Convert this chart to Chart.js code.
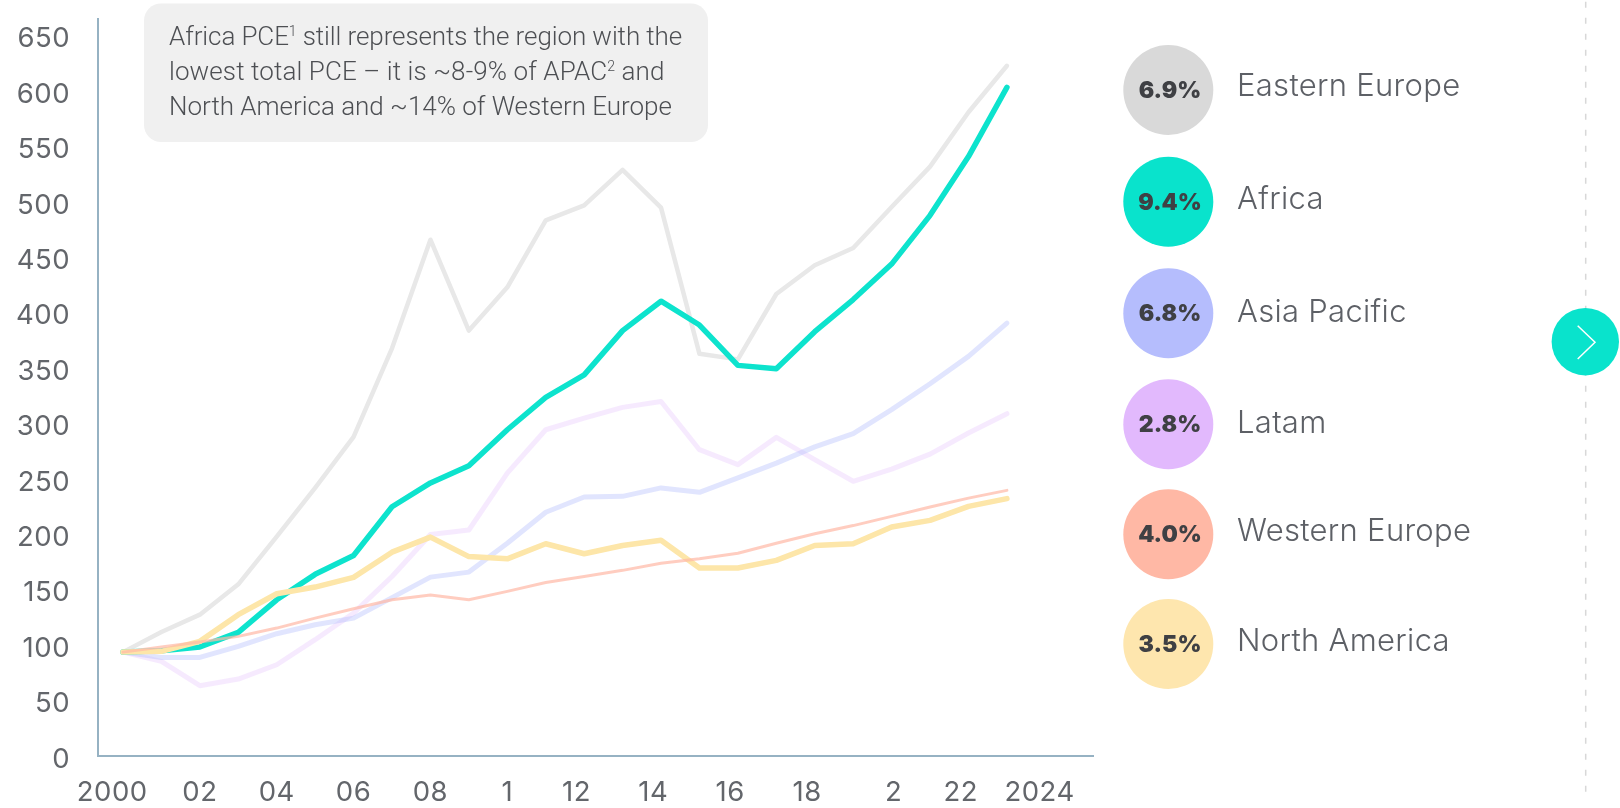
<!DOCTYPE html>
<html>
<head>
<meta charset="utf-8">
<title>PCE by region</title>
<script src="https://cdn.jsdelivr.net/npm/chart.js@4"></script>
<style>
    html, body { margin: 0; padding: 0; background: #fff; overflow: hidden; }
    #wrap { position: relative; width: 1620px; height: 808px; }
    #chart { position: absolute; left: 0; top: 0; }
    #overlay { position: absolute; left: 0; top: 0; }
    .note { font: 300 26px Roboto, sans-serif; fill: #4d4f53; letter-spacing: -0.1px; }
    .note tspan.sup { font-size: 14px; }
    .pct { font: 900 23px Inter, sans-serif; fill: #3f4044; text-anchor: middle; }
    .name { font: 300 31px Inter, sans-serif; fill: #5d6066; letter-spacing: 0.3px; }
</style>
</head>
<body>
<div id="wrap">
    <canvas id="chart" width="1620" height="808"></canvas>
    <svg id="overlay" width="1620" height="808" xmlns="http://www.w3.org/2000/svg">
        <rect x="144" y="3.5" width="564" height="138.5" rx="17" fill="#f0f0f0"></rect>
        <text class="note" x="169" y="45">Africa PCE<tspan class="sup" dy="-9">1</tspan><tspan dy="9"> still represents the region with the</tspan></text>
        <text class="note" x="169" y="80" style="letter-spacing: 0.1px">lowest total PCE – it is ~8-9% of APAC<tspan class="sup" dy="-9">2</tspan><tspan dy="9"> and</tspan></text>
        <text class="note" x="169" y="115" style="letter-spacing: -0.02px">North America and ~14% of Western Europe</text>
        <line x1="1585.7" y1="1.7" x2="1585.7" y2="792" stroke="#d8d8d8" stroke-width="1.5" stroke-dasharray="6 10"></line>
        <circle cx="1585.3" cy="341.7" r="33.7" fill="#09e3cc"></circle>
        <polyline points="1577.7,325.7 1595,342.3 1577.7,359" fill="none" stroke="#fff" stroke-width="1.5"></polyline>
    </svg>
</div>
<script>
// Indexed PCE by region, 2000 = start of the series
const years = [2000, 2001, 2002, 2003, 2004, 2005, 2006, 2007, 2008, 2009, 2010, 2011,
    2012, 2013, 2014, 2015, 2016, 2017, 2018, 2019, 2020, 2021, 2022, 2023];

const easternEurope = [96.8, 115, 130.6, 158, 201, 245, 291, 371, 469, 387, 426, 486.5,
    500, 532, 498, 366, 361, 420, 446, 461.5, 498.5, 535, 584, 626];
const africa = [96.8, 98, 101.5, 114.6, 144, 167, 184, 228, 249.5, 265, 297.5, 326.7,
    347, 387, 413.5, 392, 355.6, 352.6, 386, 415, 447, 491, 544, 606.5];
const asiaPacific = [96.8, 92, 92, 102, 113.4, 121.5, 127.5, 146, 164.5, 169, 195, 223,
    236.8, 237.4, 245, 241, 254, 267.4, 282, 294, 315.6, 339, 363.7, 393.8];
const latam = [96.8, 88.4, 66.5, 72.5, 85.4, 108, 132, 165, 203, 207, 258.4, 297.5,
    308, 317.7, 323, 279.5, 266, 290.6, 270.5, 251, 262, 275.5, 294.5, 312];
const westernEurope = [96.8, 101.4, 106, 111, 118.5, 127.5, 136, 144, 148.3, 144, 151.6, 159.7,
    165, 170.6, 177, 181, 186, 195, 203.7, 211, 219.3, 227.7, 235.8, 242.8];
const northAmerica = [96.8, 97.5, 106.5, 130.6, 149.5, 155.5, 164.3, 187, 200.6, 183, 181, 194.6,
    185.6, 193, 197.7, 172.7, 172.7, 179.6, 193, 194.6, 209.7, 215.7, 228.3, 235.3];

const yTicks = [0, 50, 100, 150, 200, 250, 300, 350, 400, 450, 500, 550, 600, 650];
// the source labels sit off the yearly grid in places, so they keep their own x values
const xTickYears = [1999.72, 2002, 2004, 2006, 2008, 2010, 2011.8, 2013.8, 2015.8, 2017.8, 2020.05, 2021.8, 2023.85];
const xTickLabels = ['2000', '02', '04', '06', '08', '1', '12', '14', '16', '18', '2', '22', '2024'];

const legendNames = ['Eastern Europe', 'Africa', 'Asia Pacific', 'Latam', 'Western Europe', 'North America'];
const legendGrowth = ['6.9%', '9.4%', '6.8%', '2.8%', '4.0%', '3.5%'];
const legendColors = ['#d9d9d9', '#09e3cc', '#b5bdfd', '#e2b9fd', '#ffb8a5', '#fee6ae'];
const legendCenters = [90, 201.7, 313.3, 424.3, 534.3, 644];
const legendBaselines = [96, 209, 321.7, 432.7, 541, 651];

const AXIS_COLOR = '#96b2c3';
const TICK_COLOR = '#63666b';

function addSvg(tag, attrs, text) {
    const el = document.createElementNS('http://www.w3.org/2000/svg', tag);
    Object.keys(attrs).forEach(key => el.setAttribute(key, attrs[key]));
    if (text) el.textContent = text;
    document.getElementById('overlay').appendChild(el);
}

legendNames.forEach((name, i) => {
    addSvg('circle', { cx: 1168.3, cy: legendCenters[i], r: 45, fill: legendColors[i] });
    addSvg('text', { class: 'pct', x: 1170, y: legendCenters[i] + 8, }, legendGrowth[i]);
    addSvg('text', { class: 'name', x: 1237, y: legendBaselines[i] }, name);
});

function series(label, values, color, width) {
    return {
        label,
        data: values.map((value, i) => ({ x: years[i], y: value })),
        borderColor: color,
        borderWidth: width,
        borderCapStyle: 'round',
        borderJoinStyle: 'round',
        pointRadius: 0,
        tension: 0
    };
}

const tickSpacing = {
    id: 'tickSpacing',
    beforeDraw: chart => { chart.ctx.letterSpacing = '0.5px'; }
};

new Chart(document.getElementById('chart'), {
    type: 'line',
    data: {
        // first dataset ends up on top
        datasets: [
            series('Western Europe', westernEurope, 'rgba(255, 184, 165, 0.7)', 3),
            series('North America', northAmerica, '#fde6a9', 5.5),
            series('Africa', africa, '#0de3cd', 5.5),
            series('Asia Pacific', asiaPacific, 'rgba(181, 189, 253, 0.4)', 5),
            series('Latam', latam, 'rgba(226, 185, 253, 0.3)', 5),
            series('Eastern Europe', easternEurope, '#e8e8e8', 4.5)
        ]
    },
    plugins: [tickSpacing],
    options: {
        responsive: false,
        animation: false,
        layout: { padding: { top: 19, right: 527, left: 0, bottom: 0 } },
        plugins: { legend: { display: false }, tooltip: { enabled: false } },
        scales: {
            x: {
                type: 'linear',
                min: 1999.35,
                max: 2025.24,
                grid: { display: false, drawTicks: false },
                border: { color: AXIS_COLOR, width: 2 },
                afterBuildTicks: scale => { scale.ticks = xTickYears.map(value => ({ value })); },
                afterFit: scale => {
                    scale.height = 52.5;
                    scale.paddingLeft = 0;
                    scale.paddingRight = 0;
                },
                ticks: {
                    autoSkip: false,
                    maxRotation: 0,
                    padding: 21,
                    color: TICK_COLOR,
                    font: { family: 'Inter', size: 27.5, weight: 400 },
                    callback: (value, index) => xTickLabels[index]
                }
            },
            y: {
                min: 3.5,
                max: 668.2,
                grid: { display: false, drawTicks: false },
                border: { color: AXIS_COLOR, width: 2 },
                afterBuildTicks: scale => { scale.ticks = yTicks.map(value => ({ value })); },
                afterFit: scale => {
                    scale.width = 98;
                    scale.paddingTop = 0;
                    scale.paddingBottom = 0;
                },
                ticks: {
                    autoSkip: false,
                    padding: 28,
                    color: TICK_COLOR,
                    font: { family: 'Inter', size: 27.5, weight: 400 },
                    callback: value => String(value)
                }
            }
        }
    }
});
</script>
</body>
</html>
